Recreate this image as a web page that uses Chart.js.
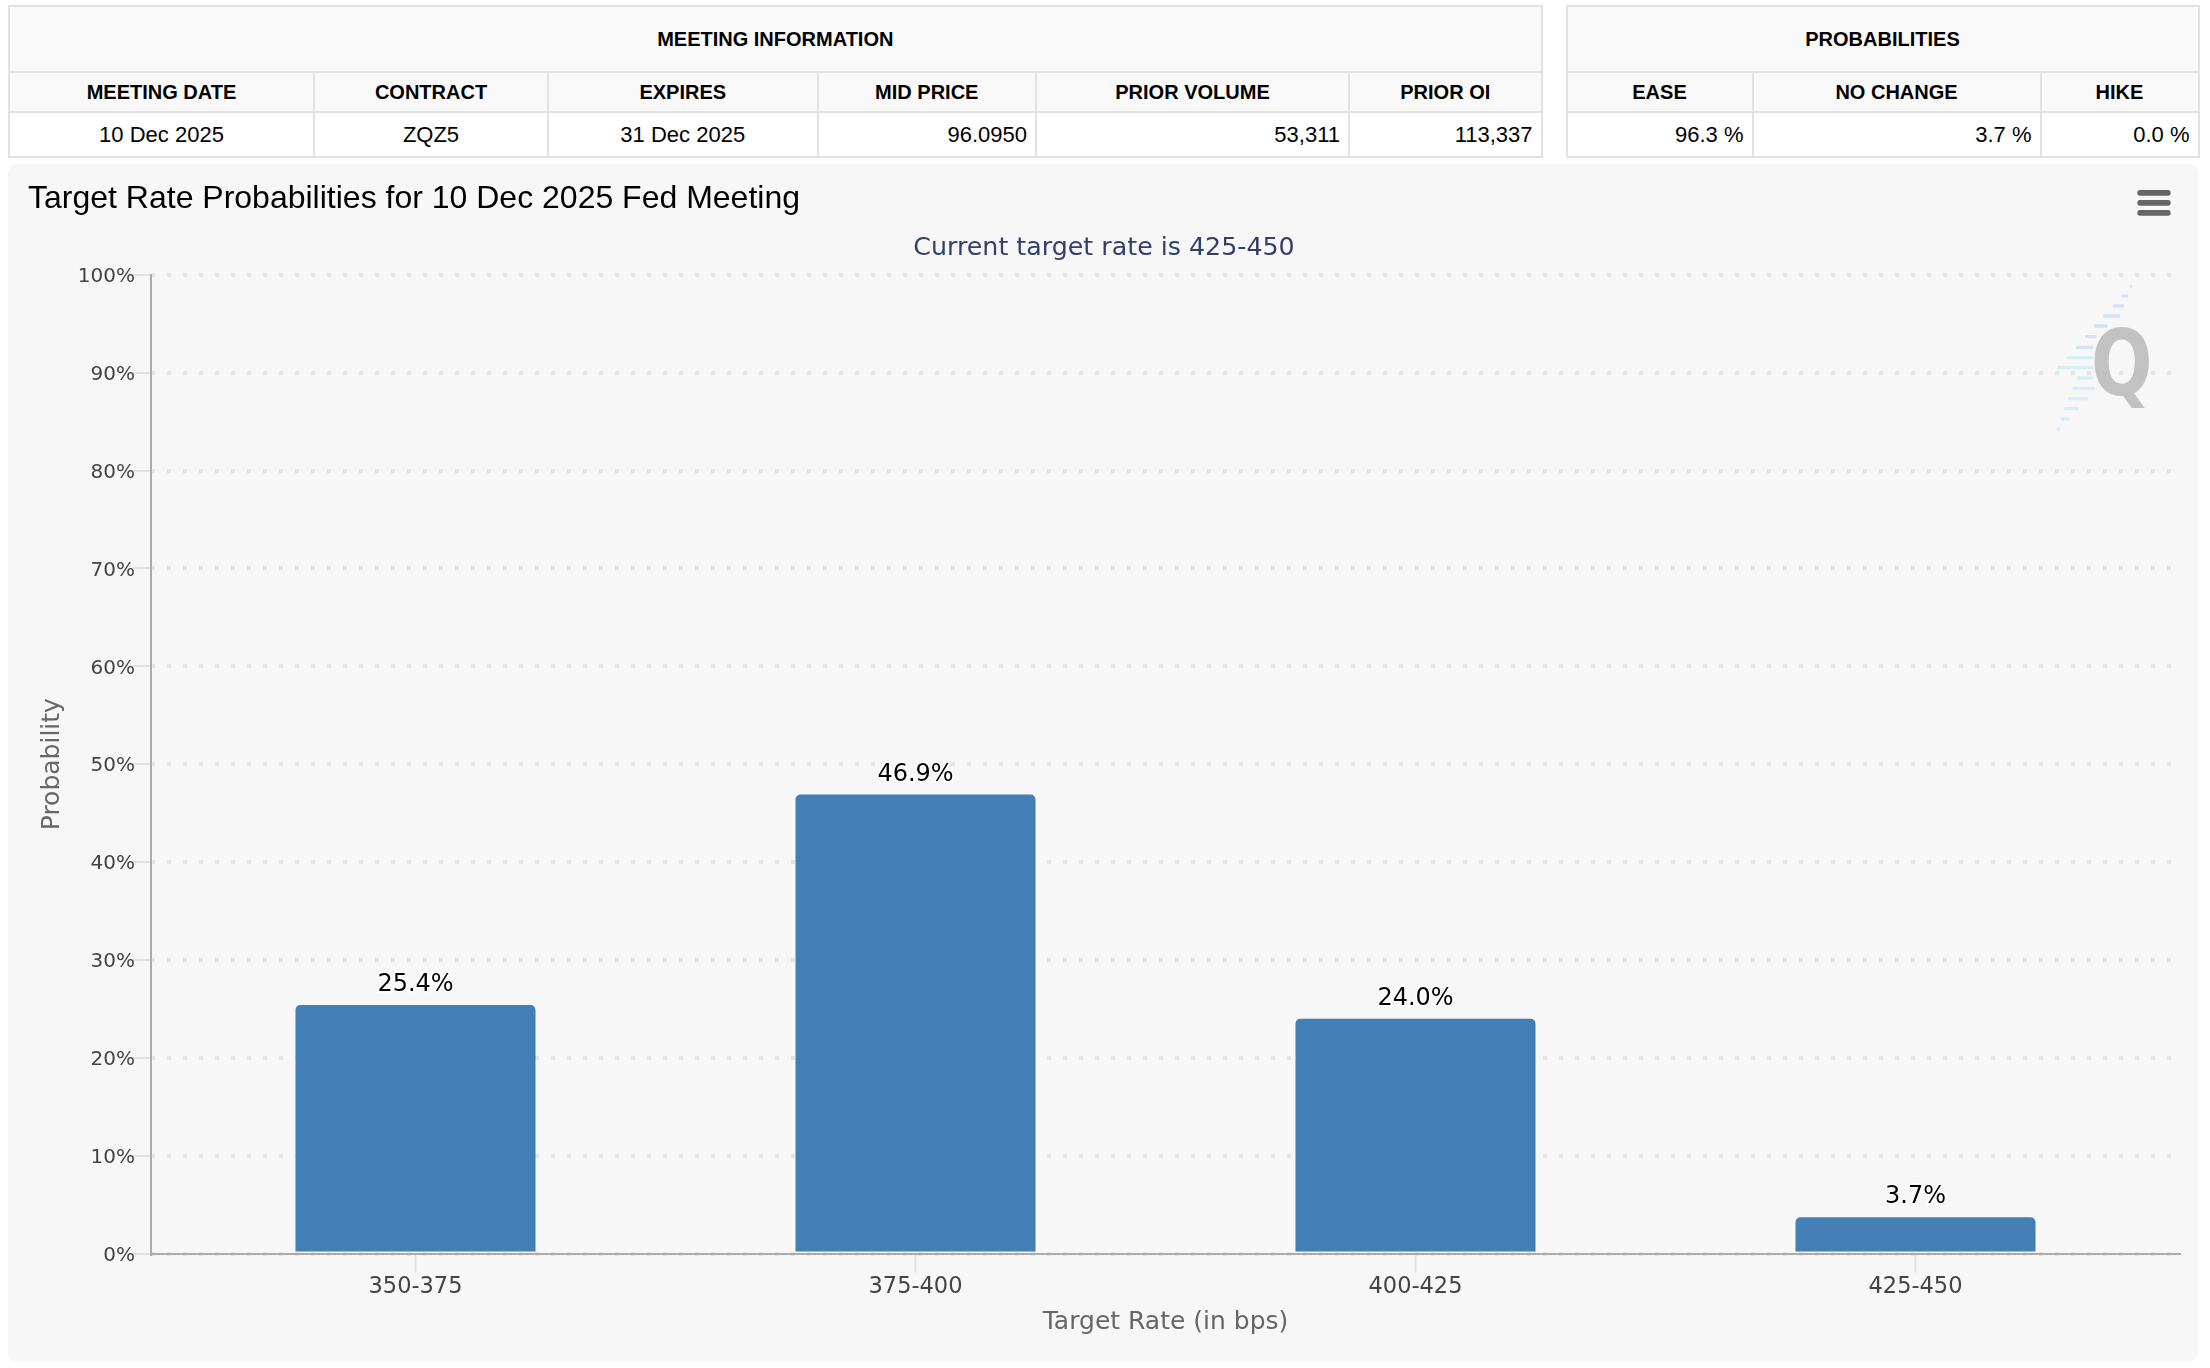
<!DOCTYPE html>
<html><head><meta charset="utf-8">
<script src="https://cdn.jsdelivr.net/npm/chart.js@4"></script>
<style>
html,body{margin:0;padding:0;background:#fff;width:2210px;height:1368px;overflow:hidden}
table{position:absolute;border-collapse:collapse;table-layout:fixed;font-family:"Liberation Sans",Arial,sans-serif;color:#000}
td,th{border:2px solid #e2e2e2;padding:0 8px;white-space:nowrap}
th{background:#f9f9f9;font-size:20px;font-weight:bold;text-align:center}
td{background:#fff;font-size:22px;text-align:right}
td.c{text-align:center}
tr.r1{height:66px}tr.r2{height:40px}tr.r3{height:45px}
#panel{position:absolute;left:8px;top:164px;width:2190px;height:1198px;background:#f7f7f7;border-radius:9px;overflow:hidden}
#overlay{position:absolute;left:2030px;top:170px;width:180px;height:270px;pointer-events:none}
</style></head><body>
<table id="t1" style="left:8px;top:5px;width:1532.5px"></table>
<table id="t2" style="left:1565.5px;top:5px;width:632px"></table>
<div id="panel"><canvas id="c" width="2190" height="1198" style="display:block"></canvas></div>
<svg id="overlay" viewBox="0 0 540 810">
 <g id="stripes"></g>
 <text id="q" x="0" y="0" font-family="DejaVu Sans" font-weight="bold" font-size="100" fill="#b9b9b9" fill-opacity="0.85" text-anchor="middle" transform="translate(275,676) scale(2.17,2.75)">Q</text>
 <g fill="#666"><rect x="322" y="60" width="100" height="17" rx="8"/><rect x="322" y="90" width="100" height="17" rx="8"/><rect x="322" y="120" width="100" height="17" rx="8"/></g>
</svg>
<script>
const categories = ['350-375','375-400','400-425','425-450'];
const probabilities = [25.4,46.9,24.0,3.7];
const meetingHeaders = ['MEETING DATE','CONTRACT','EXPIRES','MID PRICE','PRIOR VOLUME','PRIOR OI'];
const meetingValues = ['10 Dec 2025','ZQZ5','31 Dec 2025','96.0950','53,311','113,337'];
const meetingCenter = [true,true,true,false,false,false];
const meetingWidths = [305,234,269.5,218.5,313,192.5];
const probHeaders = ['EASE','NO CHANGE','HIKE'];
const probValues = ['96.3 %','3.7 %','0.0 %'];
const probWidths = [186,288,158];
const titleText = 'Target Rate Probabilities for 10 Dec 2025 Fed Meeting';
const subtitleText = 'Current target rate is 425-450';

function buildTable(id,title,heads,vals,widths,center){
  const t=document.getElementById(id);
  let h='<colgroup>'+widths.map(w=>`<col style="width:${w}px">`).join('')+'</colgroup>';
  h+=`<tr class="r1"><th colspan="${heads.length}">${title}</th></tr>`;
  h+='<tr class="r2">'+heads.map(x=>`<th>${x}</th>`).join('')+'</tr>';
  h+='<tr class="r3">'+vals.map((x,i)=>`<td class="${center&&center[i]?'c':''}">${x}</td>`).join('')+'</tr>';
  t.innerHTML=h;
}
buildTable('t1','MEETING INFORMATION',meetingHeaders,meetingValues,meetingWidths,meetingCenter);
buildTable('t2','PROBABILITIES',probHeaders,probValues,probWidths,null);

// watermark stripes
const stripeRows=[[349,300,306],[378,275,295],[408,248,282],[438,220,270],[468,192,232],[500,165,200],[532,138,190],[563,110,190],[593,82,190],[624,140,190],[655,128,195],[686,115,175],[716,103,147],[747,92,118],[777,80,90]];
document.getElementById('stripes').innerHTML=stripeRows.map(([y,a,b],i)=>`<rect x="${a}" y="${y-5}" width="${b-a}" height="10" rx="3" fill="${i<7?'#d3e3f6':'#d6eef6'}"/>`).join('');

// category scale with a fractional margin beside the first and last category
class PaddedCategory extends Chart.CategoryScale{
  static id='paddedCategory';
  configure(){
    super.configure();
    const p=this.options.edgePad||0;
    this._startValue=this.min-p;
    this._endValue=this.max+p;
    this._valueRange=this.max-this.min+2*p;
  }
}
Chart.register(PaddedCategory);

const TICKFONT='"DejaVu Sans"';
const barLabels={id:'barLabels',afterDatasetsDraw(chart){
  const c=chart.ctx,meta=chart.getDatasetMeta(0);
  c.save();
  c.font='24px '+TICKFONT;c.textAlign='center';c.textBaseline='alphabetic';
  c.lineJoin='round';c.lineWidth=3;c.strokeStyle='#fff';c.fillStyle='#000';
  meta.data.forEach((b,i)=>{
    const s=probabilities[i].toFixed(1)+'%';
    c.strokeText(s,b.x,b.y-14);c.fillText(s,b.x,b.y-14);
  });
  c.restore();
}};

new Chart(document.getElementById('c'),{
  type:'bar',
  data:{labels:categories,datasets:[{data:probabilities,backgroundColor:'#437eb5',borderRadius:5,barPercentage:0.48,categoryPercentage:1}]},
  plugins:[barLabels],
  options:{
    responsive:false,animation:false,
    layout:{padding:{left:20,right:18,top:0,bottom:0}},
    plugins:{
      legend:{display:false},tooltip:{enabled:false},
      title:{display:true,text:titleText,align:'start',color:'#000',font:{family:'"Liberation Sans"',size:32,weight:'normal'},padding:{top:16,bottom:0}},
      subtitle:{display:true,text:subtitleText,align:'center',color:'#333f6b',font:{family:TICKFONT,size:25.3,weight:'normal'},padding:{top:14.6,bottom:11.5}}
    },
    scales:{
      x:{type:'paddedCategory',edgePad:0.529,offset:false,
        grid:{drawOnChartArea:false,drawTicks:true,tickLength:19,tickColor:'#e2e2e2',tickWidth:2,offset:false},
        border:{color:'#ababab',width:2},
        ticks:{color:'#444',font:{family:TICKFONT,size:22.5},padding:1,maxRotation:0,autoSkip:false},
        title:{display:true,text:'Target Rate (in bps)',color:'#666',font:{family:TICKFONT,size:25},padding:{top:0,bottom:25}},
        afterFit(s){s.height=108.5;}
      },
      y:{min:0,max:100,
        grid:{color:'#e4e4e4',lineWidth:4,tickColor:'#e2e2e2',tickWidth:2,tickLength:18,drawTicks:true},
        border:{color:'#ababab',width:2,dash:[4,12],dashOffset:1},
        ticks:{stepSize:10,color:'#444',font:{family:TICKFONT,size:20},padding:-2,labelOffset:2,callback:v=>v+'%'},
        title:{display:true,text:'Probability',color:'#666',font:{family:TICKFONT,size:25},padding:{top:9,bottom:0}},
        afterFit(s){s.width=123;}
      }
    }
  }
});
</script></body></html>
